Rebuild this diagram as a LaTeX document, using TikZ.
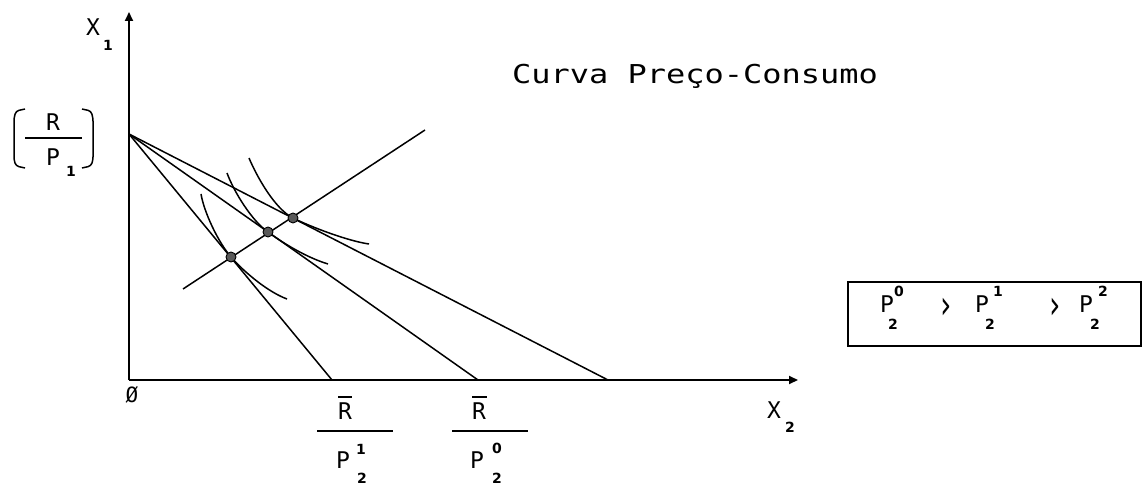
\documentclass[tikz,border=0pt]{standalone}
\usepackage{fontspec}
\newfontfamily\plotfont{DejaVu Sans Mono}
\newfontfamily\idxfont{DejaVu Sans}
\usetikzlibrary{arrows.meta}
\begin{document}
\begin{tikzpicture}[x=1pt,y=-1pt,
  axis/.style={line width=1.9pt, -{Triangle[length=9pt,width=8pt]}},
  budget/.style={line width=1.5pt},
  indiff/.style={line width=1.5pt},
  rule/.style={line width=1.5pt},
  eqpt/.style={circle, fill=black!65, draw=black, line width=0.9pt, minimum size=10pt, inner sep=0pt},
  lbl/.style={font=\plotfont\fontsize{23}{23}\selectfont, inner sep=0pt},
  idx/.style={font=\idxfont\bfseries\fontsize{14}{14}\selectfont, inner sep=0pt},
  gt/.style={font=\plotfont\fontsize{28}{28}\selectfont, inner sep=0pt},
  ttl/.style={font=\plotfont\fontsize{26}{26}\selectfont, inner sep=0pt, anchor=west},
]
\useasboundingbox (0,0) rectangle (1147,486);

% axes
\coordinate (O) at (129,380);
\coordinate (Ytop) at (129,12);
\coordinate (Xend) at (798,380);
\draw[axis] (O) -- (Ytop);
\draw[axis] (O) -- (Xend);

% budget lines
\coordinate (I) at (129,134);
\coordinate (E1) at (332,380);
\coordinate (E0) at (478,380);
\coordinate (E2) at (608,380);
\draw[budget] (I) -- (E1);
\draw[budget] (I) -- (E0);
\draw[budget] (I) -- (E2);

% price-consumption curve
\coordinate (PCa) at (183,289);
\coordinate (PCb) at (425,130);
\draw[budget] (PCa) -- (PCb);

% indifference curves
\coordinate (A1) at (201,194);
\coordinate (B1) at (287,299);
\coordinate (A2) at (227,173);
\coordinate (B2) at (328,264);
\coordinate (A3) at (249,158);
\coordinate (B3) at (369,244);
\coordinate (Q1) at (231,257);
\coordinate (Q2) at (268,232);
\coordinate (Q3) at (293,218);
\draw[indiff] (A1) .. controls (204,212) and (218,242) .. (Q1)
                   .. controls (244,272) and (268,292) .. (B1);
\draw[indiff] (A2) .. controls (234,192) and (252,221) .. (Q2)
                   .. controls (284,244) and (308,258) .. (B2);
\draw[indiff] (A3) .. controls (257,177) and (275,209) .. (Q3)
                   .. controls (311,227) and (348,241) .. (B3);

% equilibrium points
\node[eqpt] (p1) at (Q1) {};
\node[eqpt] (p2) at (Q2) {};
\node[eqpt] (p3) at (Q3) {};

% axis labels
\node[lbl] (x1) at (93,27) {X};
\node[idx] (x1i) at (108,45) {1};
\node[lbl] (x2) at (774,410) {X};
\node[idx] (x2i) at (790,427) {2};
\node[lbl, font=\plotfont\fontsize{21}{21}\selectfont] (zero) at (132,395) {Ø};

% (R / P1)
\draw[rule, rounded corners=3pt] (25,109) -- (16,111) -- (14,118) -- (14,160) -- (16,166) -- (25,168);
\draw[rule, rounded corners=3pt] (82,109) -- (91,111) -- (93,118) -- (93,160) -- (91,166) -- (82,168);
\node[lbl] (rA) at (53,122) {R};
\coordinate (fAl) at (25,138);
\coordinate (fAr) at (82,138);
\draw[rule] (fAl) -- (fAr);
\node[lbl] (pA) at (53,157) {P};
\node[idx] (pAi) at (71,171) {1};

% R-bar / P2^1
\node[lbl] (rB) at (345,411) {R};
\coordinate (bBl) at (338,397);
\coordinate (bBr) at (352,397);
\draw[line width=1.2pt] (bBl) -- (bBr);
\coordinate (fBl) at (317,431);
\coordinate (fBr) at (393,431);
\draw[rule] (fBl) -- (fBr);
\node[lbl] (pB) at (343,460) {P};
\node[idx] (pBs) at (361,449) {1};
\node[idx] (pBi) at (362,478) {2};

% R-bar / P2^0
\node[lbl] (rC) at (479,411) {R};
\coordinate (bCl) at (472,397);
\coordinate (bCr) at (487,397);
\draw[line width=1.2pt] (bCl) -- (bCr);
\coordinate (fCl) at (452,431);
\coordinate (fCr) at (528,431);
\draw[rule] (fCl) -- (fCr);
\node[lbl] (pC) at (477,460) {P};
\node[idx] (pCs) at (497,448) {0};
\node[idx] (pCi) at (497,478) {2};

% title
\node[ttl] (title) at (512,76) {\scalebox{1.23}[1]{Curva Preço-Consumo}};

% price ordering box
\coordinate (bx1) at (848,282);
\coordinate (bx2) at (1141,346);
\draw[line width=1.4pt] (bx1) rectangle (bx2);
\node[lbl] (q0) at (887,304) {P};
\node[idx] (q0s) at (899,291) {0};
\node[idx] (q0i) at (893,324) {2};
\node[gt] (g1) at (946,308) {\scalebox{1}[1.4]{›}};
\node[lbl] (q1) at (982,304) {P};
\node[idx] (q1s) at (998,291) {1};
\node[idx] (q1i) at (990,324) {2};
\node[gt] (g2) at (1055,308) {\scalebox{1}[1.4]{›}};
\node[lbl] (q2) at (1086,304) {P};
\node[idx] (q2s) at (1103,291) {2};
\node[idx] (q2i) at (1095,324) {2};
\end{tikzpicture}
\end{document}
